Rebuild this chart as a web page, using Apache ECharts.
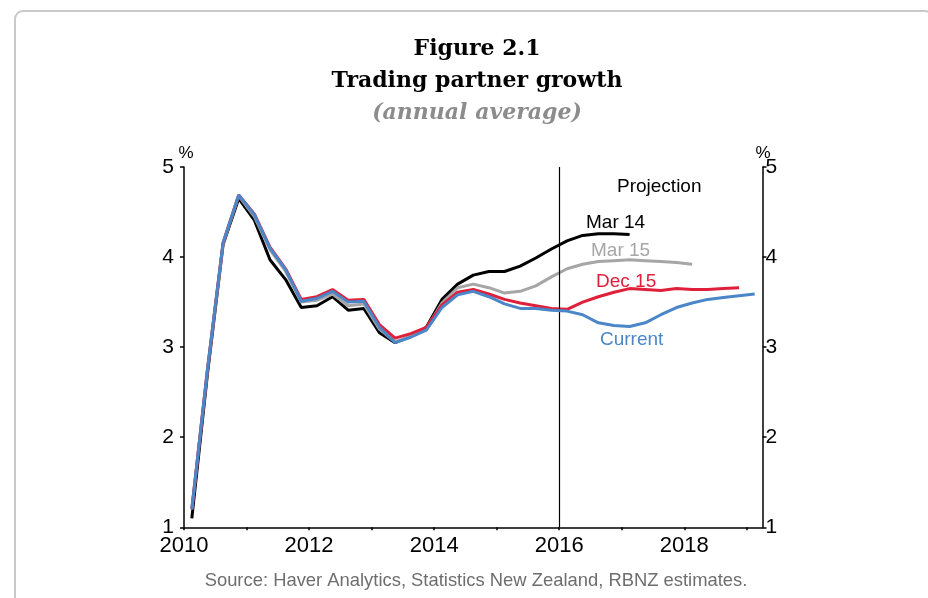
<!DOCTYPE html>
<html>
<head>
<meta charset="utf-8">
<script src="https://cdn.jsdelivr.net/npm/echarts@6/dist/echarts.min.js"></script>
<style>
  html, body { margin: 0; padding: 0; background: #fff; }
  #wrap { position: relative; width: 928px; height: 598px; overflow: hidden; }
  #frame { position: absolute; left: 14px; top: 10px; width: 920px; height: 620px;
           border: 2px solid #c9c9c9; border-radius: 9px; box-sizing: border-box; }
  #chart { position: absolute; left: 0; top: 0; width: 928px; height: 598px; }
</style>
</head>
<body>
<div id="wrap">
  <div id="frame"></div>
  <div id="chart"></div>
</div>
<script>
// quarterly points, first at early 2010
const startYear = 2010.125
const step = 0.25

// 当前 / Current
const current = [1.20, 2.75, 4.16, 4.69, 4.47, 4.10, 3.86, 3.51, 3.54, 3.62, 3.50, 3.51,
  3.22, 3.05, 3.11, 3.19, 3.44, 3.58, 3.62, 3.56, 3.48, 3.43, 3.43, 3.41, 3.40, 3.36,
  3.27, 3.24, 3.23, 3.27, 3.36, 3.44, 3.49, 3.53, 3.55, 3.57, 3.59]
const dec15 = [1.20, 2.75, 4.16, 4.69, 4.48, 4.11, 3.87, 3.53, 3.56, 3.64, 3.52, 3.53,
  3.25, 3.10, 3.15, 3.22, 3.47, 3.61, 3.64, 3.59, 3.53, 3.49, 3.46, 3.43, 3.42, 3.50,
  3.56, 3.61, 3.65, 3.64, 3.63, 3.65, 3.64, 3.64, 3.65, 3.66]
const mar15 = [1.20, 2.75, 4.15, 4.68, 4.45, 4.08, 3.84, 3.50, 3.52, 3.59, 3.46, 3.48,
  3.20, 3.06, 3.12, 3.21, 3.49, 3.66, 3.70, 3.66, 3.60, 3.62, 3.68, 3.78, 3.87, 3.92,
  3.95, 3.96, 3.97, 3.96, 3.95, 3.94, 3.92]
const mar14 = [1.10, 2.70, 4.14, 4.65, 4.41, 3.97, 3.75, 3.44, 3.46, 3.56, 3.41, 3.43,
  3.16, 3.05, 3.12, 3.22, 3.53, 3.70, 3.80, 3.84, 3.84, 3.90, 3.99, 4.09, 4.18, 4.24,
  4.26, 4.26, 4.25]

const projectionStart = 2016
const yTicks = [1, 2, 3, 4, 5]
const xLabelYears = [2010, 2012, 2014, 2016, 2018]

const toPairs = arr => arr.map((v, i) => [startYear + i * step, v])

const labelFont = 'Liberation Sans, Arial, sans-serif'
const titleFont = 'DejaVu Serif'

const chart = echarts.init(document.getElementById('chart'))

function yAxisDef (pos) {
  return {
    type: 'value',
    position: pos,
    min: yTicks[0],
    max: yTicks[yTicks.length - 1],
    interval: 1,
    axisLine: { show: true, lineStyle: { color: '#000', width: 1.5 } },
    axisTick: { show: true, length: 4, lineStyle: { color: '#000', width: 1.5 } },
    axisLabel: { color: '#000', fontSize: 21, fontFamily: labelFont, margin: pos === 'left' ? 10 : 3 },
    splitLine: { show: false }
  }
}

function lineSeries (name, arr, color, z) {
  return {
    name: name,
    type: 'line',
    data: toPairs(arr),
    showSymbol: false,
    symbol: 'none',
    z: z,
    lineStyle: { color: color, width: 3 },
    itemStyle: { color: color }
  }
}

function txt (text, x, y, color, size, extra) {
  return {
    type: 'text',
    x: x,
    y: y,
    style: Object.assign({
      text: text, fill: color, fontSize: size, fontFamily: labelFont,
      verticalAlign: 'middle', textAlign: 'left'
    }, extra || {})
  }
}

const option = {
  animation: false,
  backgroundColor: 'transparent',
  grid: { left: 184, right: 165.5, top: 167, bottom: 70.7 },
  xAxis: {
    type: 'value',
    min: 2010,
    max: 2019.25,
    interval: 1,
    axisLine: { show: true, lineStyle: { color: '#000', width: 1.5 } },
    axisTick: { show: true, length: 3, lineStyle: { color: '#000', width: 1.5 } },
    axisLabel: {
      color: '#000', fontSize: 22, fontFamily: labelFont, margin: 8,
      showMaxLabel: false,
      formatter: v => (xLabelYears.indexOf(v) >= 0 ? String(v) : '')
    },
    splitLine: { show: false }
  },
  yAxis: [yAxisDef('left'), yAxisDef('right')],
  series: [
    Object.assign(lineSeries('Mar 14', mar14, '#000000', 2), {
      markLine: {
        silent: true,
        symbol: 'none',
        label: { show: false },
        lineStyle: { color: '#000', width: 1.2, type: 'solid' },
        data: [{ xAxis: projectionStart }]
      }
    }),
    lineSeries('Mar 15', mar15, '#a6a6a6', 3),
    lineSeries('Dec 15', dec15, '#e0203a', 4),
    lineSeries('Current', current, '#4a86c8', 5)
  ],
  graphic: [
    txt('Figure 2.1', 477, 49, '#000', 22, { fontFamily: titleFont, fontWeight: 'bold', textAlign: 'center' }),
    txt('Trading partner growth', 477, 81, '#000', 22, { fontFamily: titleFont, fontWeight: 'bold', textAlign: 'center' }),
    txt('(annual average)', 477, 113, '#8c8c8c', 22, { fontFamily: titleFont, fontWeight: 'bold', fontStyle: 'italic', textAlign: 'center' }),
    txt('Source: Haver Analytics, Statistics New Zealand, RBNZ estimates.', 476, 581, '#6e6e6e', 18.4, { textAlign: 'center' }),
    txt('%', 186, 153, '#000', 17, { textAlign: 'center' }),
    txt('%', 763, 153, '#000', 17, { textAlign: 'center' }),
    txt('Projection', 617, 187, '#000', 19),
    txt('Mar 14', 586, 223, '#000', 19),
    txt('Mar 15', 591, 251, '#a6a6a6', 19),
    txt('Dec 15', 596, 282, '#e0203a', 19),
    txt('Current', 600, 340, '#4a86c8', 19)
  ]
}

chart.setOption(option)
</script>
</body>
</html>
